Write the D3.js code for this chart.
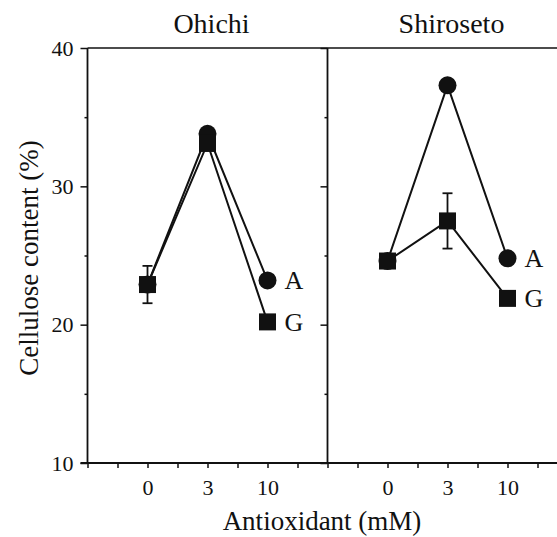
<!DOCTYPE html>
<html>
<head>
<meta charset="utf-8">
<script src="https://cdn.jsdelivr.net/npm/d3@7"></script>
<style>
  body { margin: 0; background: #fff; }
  svg text { font-family: "Liberation Serif", "Times New Roman", serif; fill: #111; }
</style>
</head>
<body>
<svg width="557" height="537"></svg>
<script>
// data
const doses = ["0", "3", "10"];
const cultivars = ["Ohichi", "Shiroseto"];
const ohichiA = [22.9, 33.8, 23.2];
const ohichiG = [22.9, 33.1, 20.2];
const ohichiGErr = [1.35, 0, 0];
const shirosetoA = [24.6, 37.3, 24.8];
const shirosetoG = [24.6, 27.5, 21.9];
const shirosetoGErr = [0, 2.0, 0];
const yTicks = [10, 15, 20, 25, 30, 35, 40];

(function(){
    var svg = d3.select("svg"),
        width = +svg.attr("width"),
        height = +svg.attr("height");

    const top = 48, bottom = 463, left = 87.5, panelW = 240;
    var y = d3.scaleLinear().domain([10, 40]).range([bottom, top]);

    var panels = [
        {name: cultivars[0], A: ohichiA, G: ohichiG, err: ohichiGErr},
        {name: cultivars[1], A: shirosetoA, G: shirosetoG, err: shirosetoGErr}
    ];

    // frame: top line and bottom line run across both panels
    svg.append("line").attr("x1", left).attr("x2", width).attr("y1", top).attr("y2", top)
        .attr("stroke", "#111").attr("stroke-width", 1.6);
    svg.append("line").attr("x1", left - 7).attr("x2", width).attr("y1", bottom).attr("y2", bottom)
        .attr("stroke", "#111").attr("stroke-width", 1.8);

    panels.forEach(function(p, i){
        var x0 = left + i * panelW;
        var x = d3.scaleLinear().domain([-1, 3]).range([x0, x0 + panelW]);

        // y axis / divider
        var yAxis = d3.axisLeft(y).tickValues(yTicks).tickSize(7)
            .tickFormat(function(d){ return (i == 0 && d % 10 == 0) ? d : ""; });
        var ya = svg.append("g").attr("transform", `translate(${x0},0)`).call(yAxis);
        ya.select(".domain").remove();
        ya.selectAll(".tick line").attr("stroke", "#111").attr("stroke-width", 1.5)
            .attr("x2", function(d){ return d % 10 == 0 ? -7 : -3; });
        ya.selectAll(".tick text").attr("x", -14).style("font-size", "22px");
        svg.append("line").attr("x1", x0).attr("x2", x0).attr("y1", top).attr("y2", bottom)
            .attr("stroke", "#111").attr("stroke-width", 1.8);

        // x axis
        var xAxis = d3.axisBottom(x).tickValues(d3.range(-1, 3, 0.5)).tickSize(5)
            .tickFormat(function(d){ return (Number.isInteger(d) && d >= 0) ? doses[d] : ""; });
        var xa = svg.append("g").attr("transform", `translate(0,${bottom})`).call(xAxis);
        xa.select(".domain").remove();
        xa.selectAll(".tick line").attr("stroke", "#111").attr("stroke-width", 1.5);
        xa.selectAll(".tick text").attr("y", 16).style("font-size", "22px");

        // title
        svg.append("text").attr("x", x(1) + 4).attr("y", 33).attr("text-anchor", "middle")
            .style("font-size", "28px").text(p.name);

        var line = d3.line().x(function(d, k){ return x(k); }).y(function(d){ return y(d); });

        svg.append("path").datum(p.A).attr("d", line)
            .attr("fill", "none").attr("stroke", "#111").attr("stroke-width", 2);
        svg.append("path").datum(p.G).attr("d", line)
            .attr("fill", "none").attr("stroke", "#111").attr("stroke-width", 2);

        // error bars on G
        p.err.forEach(function(e, k){
            if (!e) return;
            var g = svg.append("g").attr("stroke", "#111").attr("stroke-width", 1.8);
            g.append("line").attr("x1", x(k)).attr("x2", x(k))
                .attr("y1", y(p.G[k] + e)).attr("y2", y(p.G[k] - e));
            [p.G[k] + e, p.G[k] - e].forEach(function(v){
                g.append("line").attr("x1", x(k) - 5).attr("x2", x(k) + 5)
                    .attr("y1", y(v)).attr("y2", y(v));
            });
        });

        svg.append("g").selectAll("circle").data(p.A).enter().append("circle")
            .attr("cx", function(d, k){ return x(k); })
            .attr("cy", function(d){ return y(d); })
            .attr("r", 9).attr("fill", "#111");

        svg.append("g").selectAll("rect").data(p.G).enter().append("rect")
            .attr("x", function(d, k){ return x(k) - 8.5; })
            .attr("y", function(d){ return y(d) - 8.5; })
            .attr("width", 17).attr("height", 17).attr("fill", "#111");

        // series labels
        svg.append("text").attr("x", x(2) + 17).attr("y", y(p.A[2]) + 9)
            .style("font-size", "26px").text("A");
        svg.append("text").attr("x", x(2) + 17).attr("y", y(p.G[2]) + 9)
            .style("font-size", "26px").text("G");
    });

    // axis titles
    svg.append("text").attr("transform", "translate(38,258) rotate(-90)")
        .attr("text-anchor", "middle").style("font-size", "27px").text("Cellulose content (%)");
    svg.append("text").attr("x", 322).attr("y", 530)
        .attr("text-anchor", "middle").style("font-size", "27px").text("Antioxidant (mM)");
})();
</script>
</body>
</html>
